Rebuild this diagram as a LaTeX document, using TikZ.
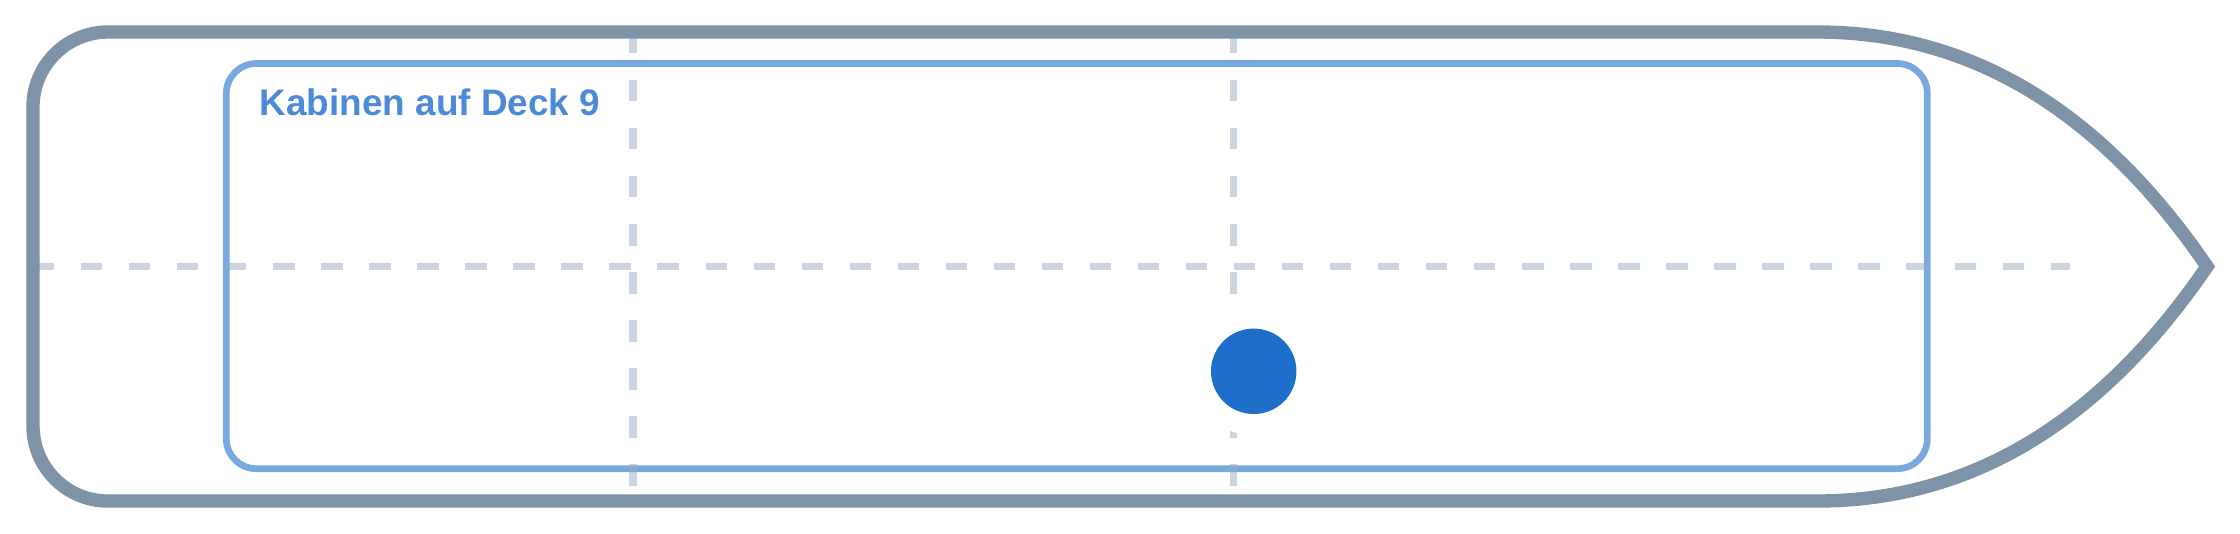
\documentclass[tikz,border=0pt]{standalone}
\usepackage{fontspec}
\newfontfamily\labelfont{Liberation Sans}

\definecolor{hullgray}{HTML}{7E93A8}
\definecolor{cabinblue}{HTML}{77A8DE}
\definecolor{labelblue}{HTML}{4A8AD6}
\definecolor{dotblue}{HTML}{1D6FCA}
\definecolor{gridgray}{HTML}{98ACC3}

\begin{document}
\begin{tikzpicture}[x=0.01cm, y=-0.01cm,
  hull/.style={draw=hullgray, line width=3.8pt, line join=miter},
  cabins/.style={draw=cabinblue, line width=1.9pt, rounded corners=0.3cm},
  gridline/.style={gridgray, opacity=0.5, line width=2pt, dash pattern=on 6.07pt off 7.59pt},
  decklabel/.style={anchor=base west, inner sep=0pt, text=labelblue,
    font=\labelfont\bfseries\fontsize{10.5}{12}\selectfont},
  cabindot/.style={circle, fill=dotblue, minimum size=0.854cm, inner sep=0pt}]
  \useasboundingbox (0,0) rectangle (2240,533);

  % Cabin block
  \draw[cabins] (226.3,63.5) rectangle (1927.3,468.7);

  % Grid
  \draw[gridline] (33,266.5) -- (2070,266.5);
  \foreach \gx in {633,1233}
    \draw[gridline] (\gx,32) -- (\gx,501);

  % Cabin position
  \coordinate (spot) at (1253.7,371.3);
  \fill[white] (spot) circle[radius=0.64cm];
  \node[cabindot] (cabin) at (spot) {};

  % Hull
  \draw[hull] (1817,32) -- (108,32)
    arc[start angle=90, end angle=180, radius=0.75cm] -- (33,426)
    arc[start angle=180, end angle=270, radius=0.75cm] -- (1817,501)
    .. controls (1970,501) and (2100,423) .. (2207,266.5)
    .. controls (2100,110) and (1970,32) .. cycle;

  % Label
  \node[decklabel] (deck) at (259,115.7) {Kabinen auf Deck 9};
\end{tikzpicture}
\end{document}
